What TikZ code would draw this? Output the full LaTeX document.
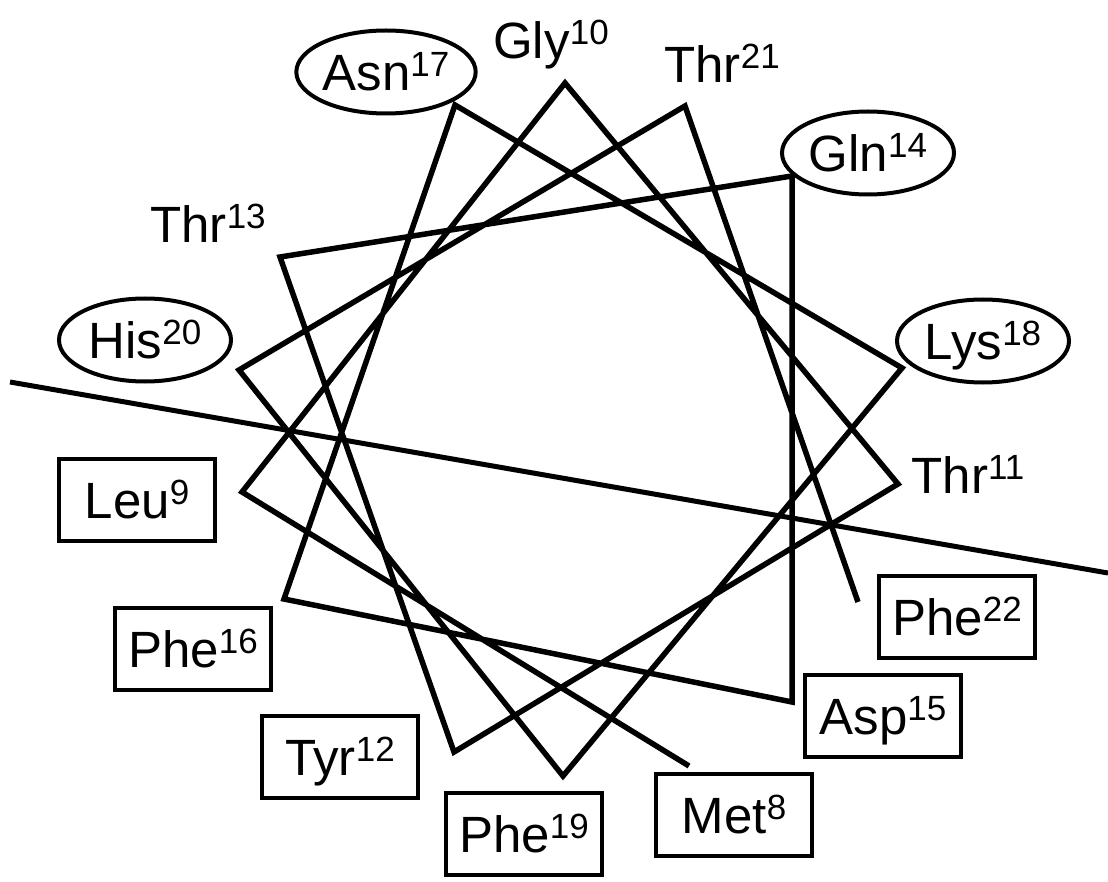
\documentclass[tikz,border=0pt]{standalone}
\usepackage{fontspec}
\setmainfont{Liberation Sans}
\usetikzlibrary{shapes.geometric}
\newcommand\resnum[1]{\raisebox{14pt}{\fontsize{35}{35}\selectfont #1}}
\begin{document}
\begin{tikzpicture}[x=1pt,y=-1pt,
  helix/.style={line width=5.5pt, line join=miter, line cap=butt},
  divider/.style={line width=5pt},
  lab/.style={font=\fontsize{51}{51}\selectfont, inner sep=0pt, text height=36.5pt, text depth=0pt},
  freelab/.style={font=\fontsize{51}{51}\selectfont, inner sep=0pt, anchor=base},
  boxlab/.style={lab, draw, rectangle, line width=4.5pt, minimum width=156pt, minimum height=82pt},
  elllab/.style={lab, draw, ellipse, line width=4pt, minimum width=172pt, minimum height=83pt}]
\useasboundingbox (0,0) rectangle (1108,882);
% helix vertices
\coordinate (v8) at (689,766);
\coordinate (v9) at (242,492);
\coordinate (v10) at (565,83);
\coordinate (v11) at (898,484);
\coordinate (v12) at (454,752);
\coordinate (v13) at (280,257);
\coordinate (v14) at (792,176);
\coordinate (v15) at (792,702);
\coordinate (v16) at (284,599);
\coordinate (v17) at (455,105);
\coordinate (v18) at (902,368);
\coordinate (v19) at (563,776);
\coordinate (v20) at (239,370);
\coordinate (v21) at (685,106);
\coordinate (v22) at (858,602);
\draw[helix] (v8) -- (v9) -- (v10) -- (v11) -- (v12) -- (v13) -- (v14) -- (v15)
  -- (v16) -- (v17) -- (v18) -- (v19) -- (v20) -- (v21) -- (v22);
% dividing line
\coordinate (dl) at (10,382);
\coordinate (dr) at (1108,573);
\draw[divider] (dl) -- (dr);
% labels
\node[elllab] (asn17) at (386,72) {Asn\resnum{17}};
\node[freelab] (gly10) at (551,59) {Gly\resnum{10}};
\node[freelab] (thr21) at (722,83) {Thr\resnum{21}};
\node[elllab] (gln14) at (868,153) {Gln\resnum{14}};
\node[freelab] (thr13) at (208,243) {Thr\resnum{13}};
\node[elllab] (his20) at (145,340) {His\resnum{20}};
\node[elllab] (lys18) at (983,341) {Lys\resnum{18}};
\node[freelab] (thr11) at (968,493) {Thr\resnum{11}};
\node[boxlab] (leu9) at (137,500) {Leu\resnum{9}};
\node[boxlab] (phe16) at (193,649) {Phe\resnum{16}};
\node[boxlab] (tyr12) at (340,757) {Tyr\resnum{12}};
\node[boxlab] (phe19) at (524,834) {Phe\resnum{19}};
\node[boxlab] (met8) at (734,815) {Met\resnum{8}};
\node[boxlab] (asp15) at (883,716) {Asp\resnum{15}};
\node[boxlab] (phe22) at (957,617) {Phe\resnum{22}};
\end{tikzpicture}
\end{document}
